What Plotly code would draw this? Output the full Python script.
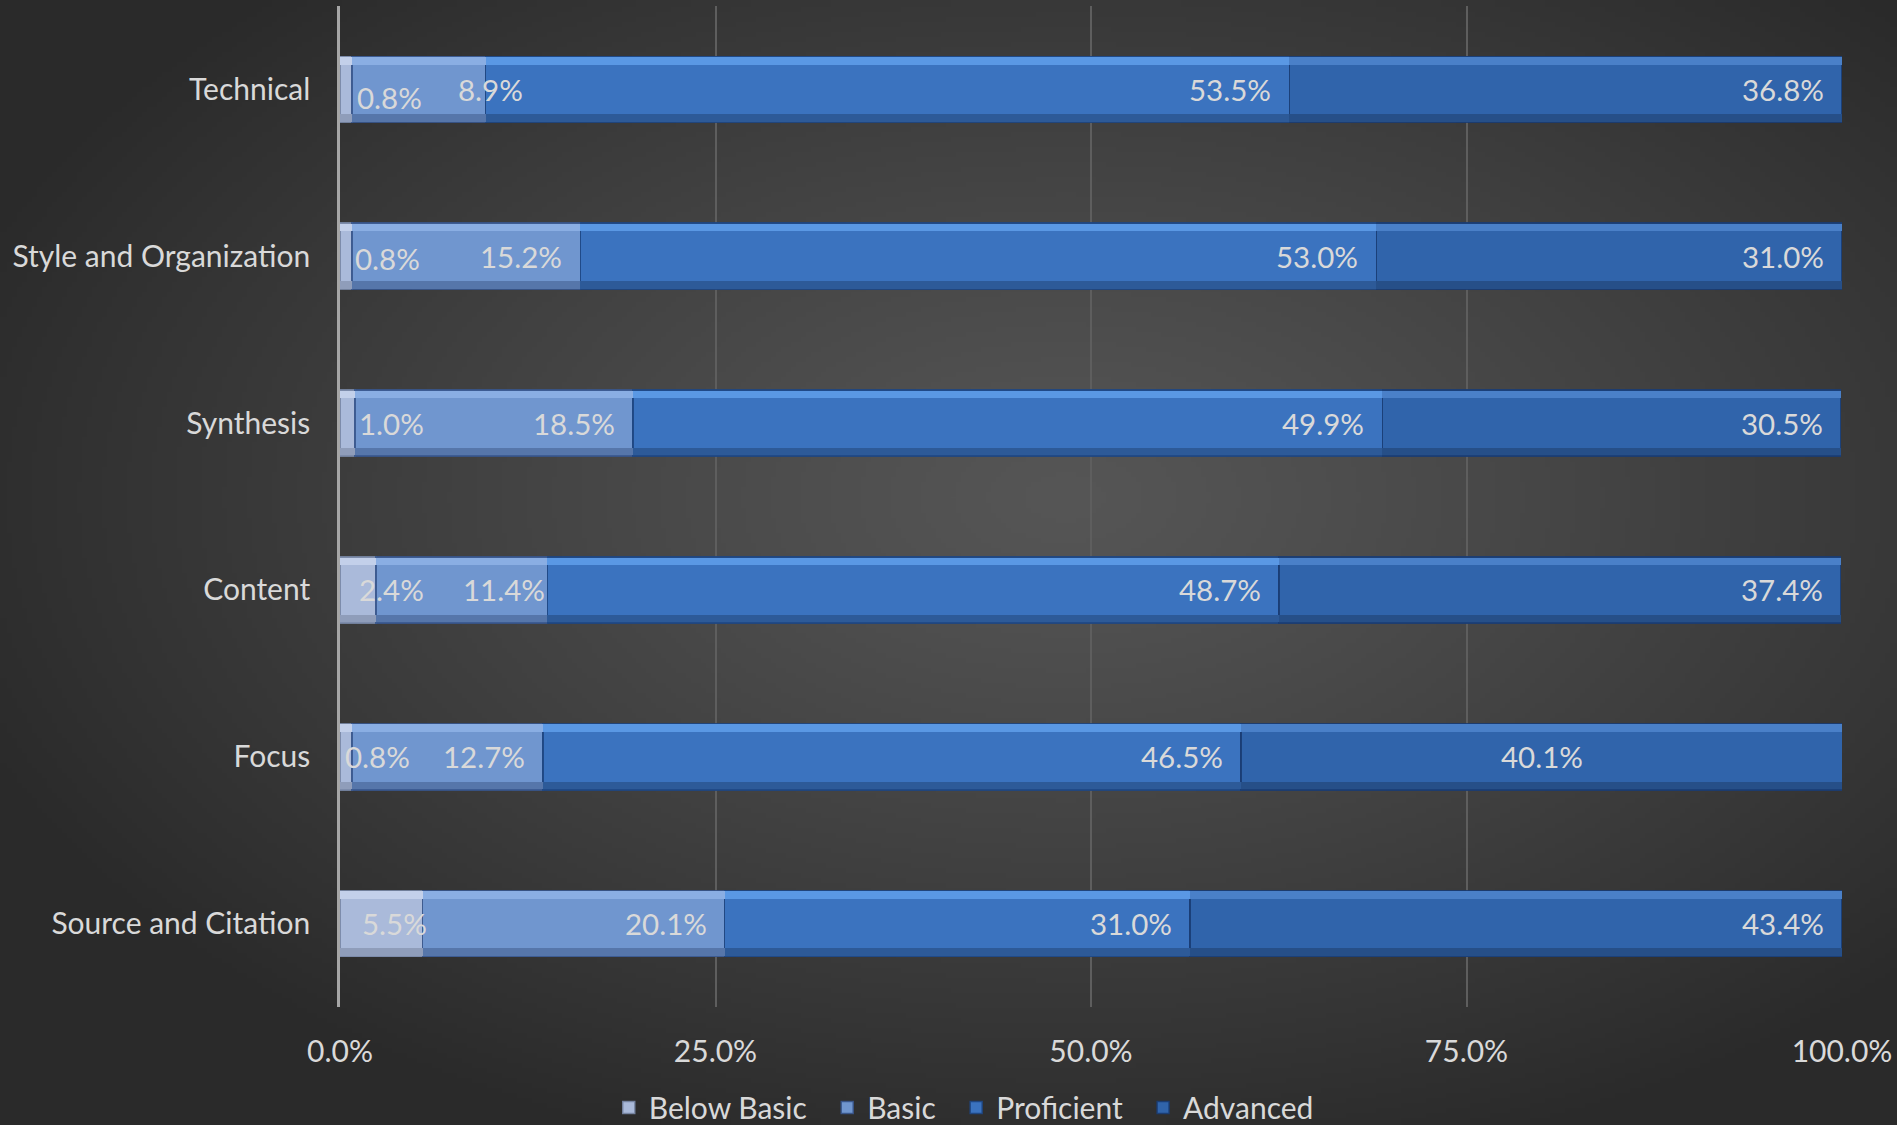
import base64
import struct
import zlib

import numpy as np
import plotly.graph_objects as go

# ---------------- data ----------------
categories = ["Technical", "Style and Organization", "Synthesis", "Content", "Focus", "Source and Citation"]
series_names = ["Below Basic", "Basic", "Proficient", "Advanced"]
below_basic = [0.8, 0.8, 1.0, 2.4, 0.8, 5.5]
basic = [8.9, 15.2, 18.5, 11.4, 12.7, 20.1]
proficient = [53.5, 53.0, 49.9, 48.7, 46.5, 31.0]
advanced = [36.8, 31.0, 30.5, 37.4, 40.1, 43.4]
x_tick_vals = [0.0, 25.0, 50.0, 75.0, 100.0]
x_tick_text = ["0.0%", "25.0%", "50.0%", "75.0%", "100.0%"]

# ---------------- style ----------------
W, H = 1897, 1125
ML, MR, MT, MB = 340, 55, 6, 118
FONT = "Lato"
TXT = "#D9D9D9"
AX_SIZE = 30
LBL_SIZE = 29.5
colors = ["#AABADA", "#7096CF", "#3B73BF", "#3064AB"]
hi_colors = ["#C3D0EA", "#8AAEE3", "#5A98E4", "#4A80C8"]
lo_colors = ["#8F9DBA", "#5676AA", "#2D5A98", "#264F88"]
edge = ["rgba(120,135,165,0.9)", "rgba(55,85,140,0.9)", "rgba(30,70,130,0.9)", "rgba(25,60,115,0.9)"]
BAR_W = 0.396
STRIP = 0.045
LEGEND_PAD = "\u00a0\u00a0"

# label placement overrides: (category index, series index) -> (anchor, xshift, yshift)
label_style = {
    (0, 0): ("left", 15, -8), (1, 0): ("left", 13, -2), (2, 0): ("left", 17, 0),
    (3, 0): ("left", 17, 0), (4, 0): ("left", 3, 0), (5, 0): ("left", 20, 0),
    (0, 1): ("right", 39, 0), (3, 1): ("right", 0, 0), (4, 3): ("center", 0, 0),
}

series = [below_basic, basic, proficient, advanced]

# ---------------- background gradient image ----------------
gw, gh = 380, 225
yy, xx = np.mgrid[0:gh, 0:gw].astype(float)
cx, cy = 0.56 * gw, 0.44 * gh
d = np.sqrt(((xx - cx) / (0.62 * gw)) ** 2 + ((yy - cy) / (0.62 * gh)) ** 2)
d = np.clip(d, 0, 1)
v = 86 - 44 * d ** 1.15
arr = np.clip(v, 0, 255).astype(np.uint8)
rgb = np.stack([arr, arr, arr], axis=-1)


def make_png(a):
    h, w, _ = a.shape
    raw = b"".join(b"\x00" + a[i].tobytes() for i in range(h))

    def chunk(t, dat):
        c = struct.pack(">I", len(dat)) + t + dat
        return c + struct.pack(">I", zlib.crc32(t + dat) & 0xFFFFFFFF)

    return (b"\x89PNG\r\n\x1a\n" + chunk(b"IHDR", struct.pack(">IIBBBBB", w, h, 8, 2, 0, 0, 0))
            + chunk(b"IDAT", zlib.compress(raw, 9)) + chunk(b"IEND", b""))


bg_src = "data:image/png;base64," + base64.b64encode(make_png(rgb)).decode()
pw, ph = W - ML - MR, H - MT - MB

# ---------------- figure ----------------
fig = go.Figure()
for i, (name, vals) in enumerate(zip(series_names, series)):
    fig.add_trace(go.Bar(
        y=categories, x=vals, name=name + LEGEND_PAD, orientation="h",
        marker=dict(color=colors[i], line=dict(color=edge[i], width=1.5)),
        hoverinfo="skip",
    ))
# bevel highlight (top) and shade (bottom) strips on overlaid axes
for i, vals in enumerate(series):
    fig.add_trace(go.Bar(
        y=categories, x=vals, orientation="h", yaxis="y2", showlegend=False,
        width=STRIP, offset=-BAR_W / 2 + 0.004,
        marker=dict(color=hi_colors[i], line=dict(width=0)), hoverinfo="skip",
    ))
for i, vals in enumerate(series):
    fig.add_trace(go.Bar(
        y=categories, x=vals, orientation="h", yaxis="y3", showlegend=False,
        width=STRIP, offset=BAR_W / 2 - STRIP - 0.004,
        marker=dict(color=lo_colors[i], line=dict(width=0)), hoverinfo="skip",
    ))

annotations = []
for ci, cat in enumerate(categories):
    cum = 0.0
    for si, vals in enumerate(series):
        start = cum
        cum += vals[ci]
        anchor, xs, ys = label_style.get((ci, si), ("right", -16, 0))
        if anchor == "left":
            xpos = start
        elif anchor == "center":
            xpos = (start + cum) / 2
        else:
            xpos = cum
        annotations.append(dict(
            x=xpos, y=cat, xref="x", yref="y", text=f"{vals[ci]:.1f}%",
            showarrow=False, xanchor=anchor, yanchor="middle", xshift=xs, yshift=ys,
            font=dict(family=FONT, size=LBL_SIZE, color=TXT),
        ))

fig.update_layout(
    width=W, height=H,
    barmode="stack", bargap=1 - BAR_W,
    paper_bgcolor="#2c2c2c", plot_bgcolor="rgba(0,0,0,0)",
    margin=dict(l=ML, r=MR, t=MT, b=MB, pad=0, autoexpand=False),
    font=dict(family=FONT, size=AX_SIZE, color=TXT),
    showlegend=True,
    legend=dict(orientation="h", x=0.512, xanchor="center", xref="container",
                y=0.0155, yanchor="middle", yref="container",
                font=dict(family=FONT, size=AX_SIZE, color=TXT), traceorder="normal",
                itemwidth=30, bgcolor="rgba(0,0,0,0)"),
    annotations=annotations,
    images=[dict(source=bg_src, xref="paper", yref="paper", x=-ML / pw, y=1 + MT / ph,
                 sizex=W / pw, sizey=H / ph, xanchor="left", yanchor="top",
                 sizing="stretch", layer="below")],
    yaxis2=dict(overlaying="y", matches="y", visible=False, autorange="reversed"),
    yaxis3=dict(overlaying="y", matches="y", visible=False, autorange="reversed"),
)
fig.update_xaxes(range=[0, 100], tickvals=x_tick_vals, ticktext=x_tick_text,
                 showgrid=True, gridcolor="#5E5E5E", gridwidth=1.5, zeroline=False,
                 showline=False, ticks="", ticklabelstandoff=24,
                 tickfont=dict(family=FONT, size=AX_SIZE, color=TXT), fixedrange=True)
fig.update_layout(yaxis=dict(autorange="reversed", showline=True, linecolor="#A6A6A6", linewidth=2.5,
                             showgrid=False, ticks="", ticklabelstandoff=21,
                             tickfont=dict(family=FONT, size=AX_SIZE, color=TXT), fixedrange=True))

fig.write_html("out.html", config={"displayModeBar": False},
               post_script="document.body.style.margin='0';document.body.style.overflow='hidden';")
